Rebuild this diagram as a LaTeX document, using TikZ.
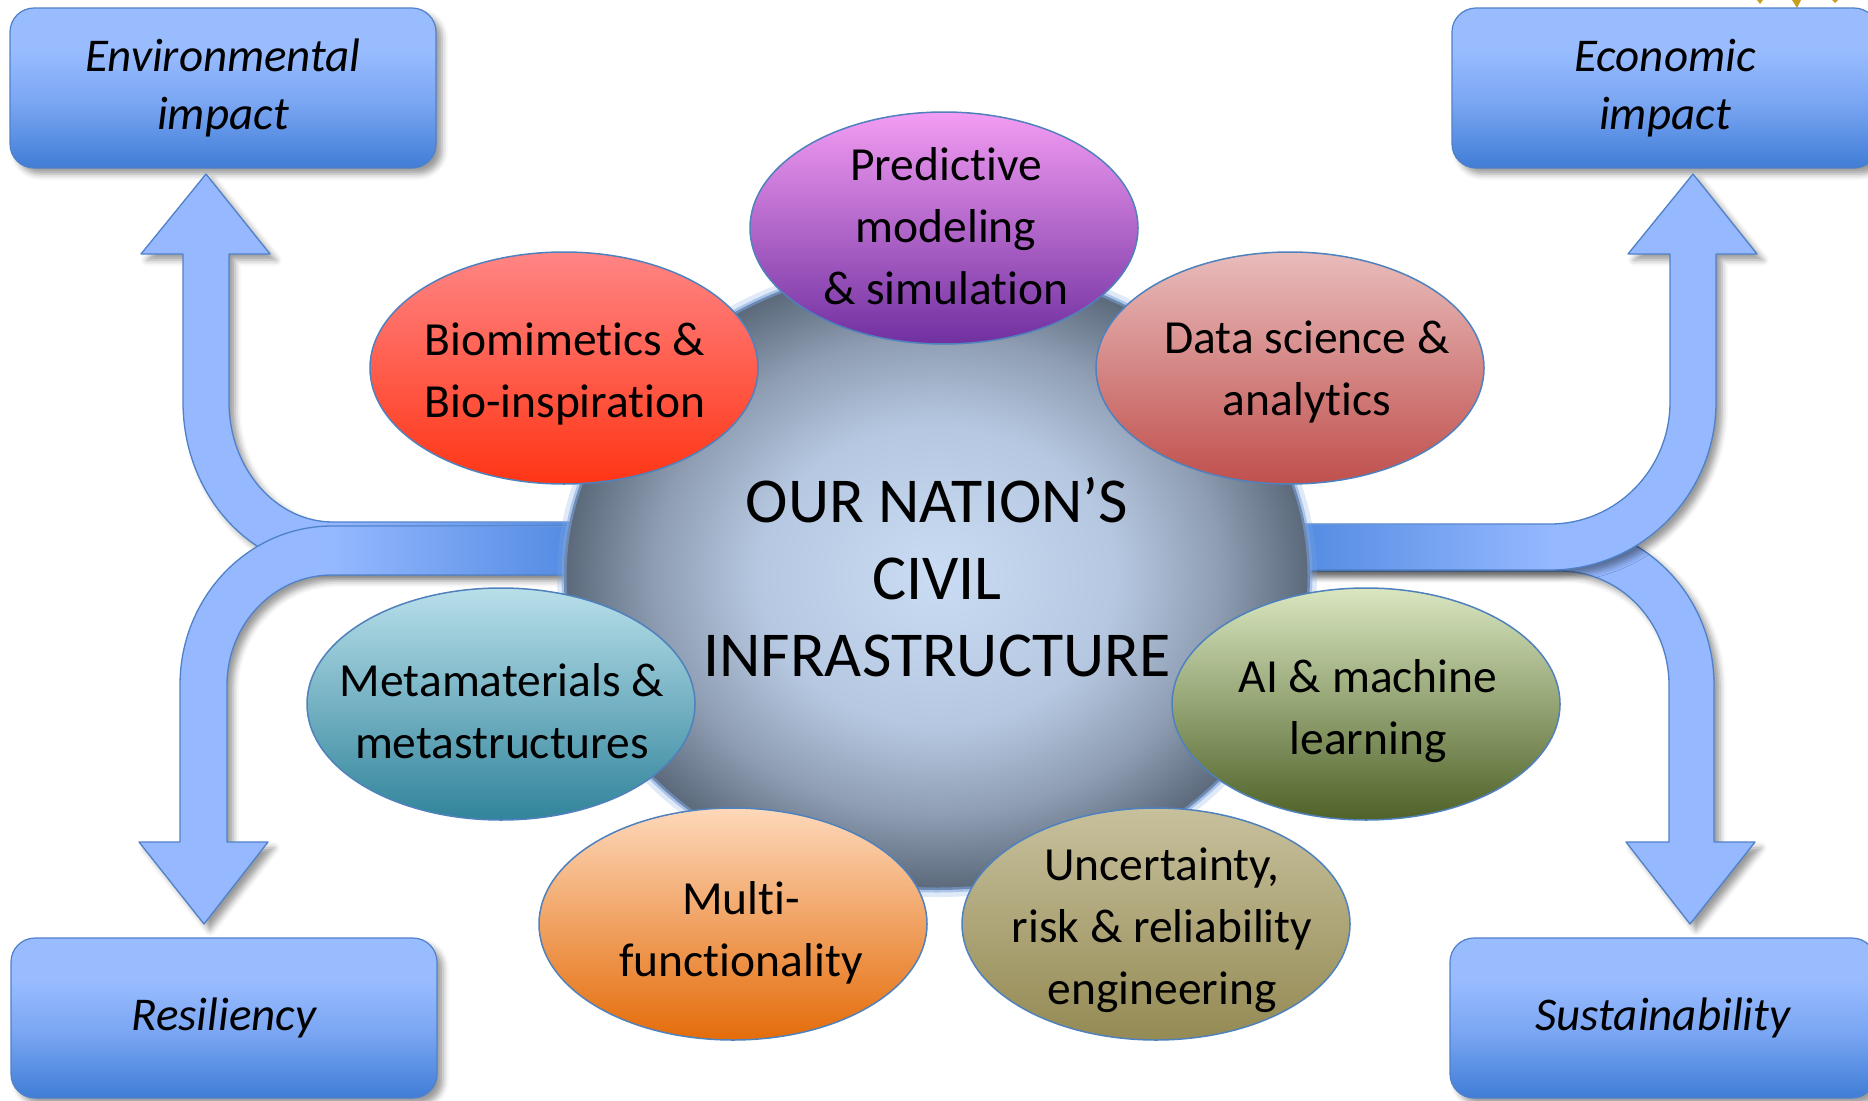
\documentclass[tikz,border=0pt]{standalone}
\usepackage{fontspec}
\setmainfont{Carlito}[Ligatures={NoCommon}]
\usetikzlibrary{shapes.geometric,shadows.blur}

\definecolor{arrfill}{HTML}{95B8FF}
\definecolor{arrline}{HTML}{4F81C8}
\definecolor{arrdark}{HTML}{4682DC}
\definecolor{boxtop}{HTML}{99BCFF}
\definecolor{boxmid}{HTML}{79A5F2}
\definecolor{boxbot}{HTML}{407DD6}
\definecolor{cinner}{HTML}{CADCF3}
\definecolor{cmidA}{HTML}{B6C8E1}
\definecolor{cmidB}{HTML}{8E9DB2}
\definecolor{couter}{HTML}{5A687A}
\definecolor{ringblue}{HTML}{7EA6E0}
\definecolor{ellline}{HTML}{4F81BD}
\definecolor{purT}{HTML}{F39CF3}
\definecolor{purB}{HTML}{7030A0}
\definecolor{redT}{HTML}{FF8585}
\definecolor{redB}{HTML}{FF3515}
\definecolor{datT}{HTML}{E8BCBB}
\definecolor{datB}{HTML}{C0504D}
\definecolor{teaT}{HTML}{B8DFEA}
\definecolor{teaB}{HTML}{31849B}
\definecolor{grnT}{HTML}{D9E6C0}
\definecolor{grnB}{HTML}{4F6228}
\definecolor{oraT}{HTML}{FDD8BA}
\definecolor{oraB}{HTML}{E46C0A}
\definecolor{khaT}{HTML}{C7C09C}
\definecolor{khaB}{HTML}{948A54}
\definecolor{goldbit}{HTML}{C8A020}

\pgfdeclareverticalshading{boxshade}{100bp}{color(0bp)=(boxbot); color(25bp)=(boxbot); color(45bp)=(boxmid); color(62bp)=(boxtop); color(100bp)=(boxtop)}
\pgfdeclareradialshading{civshade}{\pgfpointorigin}{color(0bp)=(cinner); color(12bp)=(cmidA); color(19bp)=(cmidB); color(25bp)=(couter); color(50bp)=(couter)}

\newcommand\bxfont{\fontsize{47}{58}\selectfont\itshape}
\newcommand\tpfont{\fontsize{47.5}{62}\selectfont}
\newcommand\ctfont{\fontsize{64}{77}\selectfont}

\newcommand\envarrowpath{(620,522) -- (333,522) .. controls (275.6,522) and (229,468.3) .. (229,402) -- (229,254) -- (270,254) -- (206,174) -- (141,254) -- (183,254) -- (183,402) .. controls (183,494.2) and (250.2,569) .. (333,569) -- (620,569) -- cycle}
\newcommand\resarrowpath{(620,526) -- (332,526) .. controls (248.0,526) and (180,597.2) .. (180,685) -- (180,842) -- (139,842) -- (204,924) -- (268,842) -- (227,842) -- (227,685) .. controls (227,624.2) and (274.0,575) .. (332,575) -- (620,575) -- cycle}
\newcommand\ecoarrowpath{(1250,524) -- (1550,524) .. controls (1616.3,524) and (1670,469.4) .. (1670,402) -- (1670,254) -- (1628,254) -- (1693,174) -- (1757,254) -- (1716,254) -- (1716,402) .. controls (1716,494.8) and (1641.7,570) .. (1550,570) -- (1250,570) -- cycle}
\newcommand\susarrowpath{(1250,525) -- (1560,525) .. controls (1645.1,525) and (1714,596.6) .. (1714,685) -- (1714,842) -- (1755,842) -- (1690,924) -- (1626,842) -- (1669,842) -- (1669,685) .. controls (1669,622.0) and (1620.2,571) .. (1560,571) -- (1250,571) -- cycle}

\tikzset{
  shadowst/.style={blur shadow={shadow xshift=6pt, shadow yshift=-6pt, shadow blur radius=6pt, shadow opacity=40}},
  arrowfillst/.style={fill=arrfill, shadowst},
  arrowlinest/.style={draw=arrline, line width=1.3pt, line join=round},
  boxst/.style={rounded corners=24pt, minimum width=426pt, minimum height=160pt, draw=arrline, line width=1.2pt, shade, shading=boxshade, shadowst, font=\bxfont, align=center, inner sep=0pt},
  topic/.style={ellipse, minimum width=388pt, minimum height=232pt, draw=ellline, line width=1.5pt, inner sep=0pt},
  ttext/.style={font=\tpfont, align=center, inner sep=0pt},
}

\begin{document}
\begin{tikzpicture}[x=1pt, y=-1pt]
\useasboundingbox (0,0) rectangle (1868,1100);

% tiny cut-off fragment at the top right
\fill[goldbit] (1757,0) -- (1763,0) -- (1760,4) -- cycle;
\fill[goldbit] (1792,0) -- (1801,0) -- (1797,8) -- cycle;
\fill[goldbit] (1832,0) -- (1838,0) -- (1835,3) -- cycle;

% outcome boxes
\node[boxst] (env) at (223,88) {Environmental\\impact};
\node[boxst] (eco) at (1665,88) {Economic\\impact};
\node[boxst] (res) at (224,1018) {Resiliency};
\node[boxst] (sus) at (1663,1018) {Sustainability};

% left arrows
\fill[arrowfillst] \envarrowpath;
\shade[left color=arrfill, right color=arrdark] (333,523) rectangle (620,568);
\draw[arrowlinest] \envarrowpath;

\fill[arrowfillst] \resarrowpath;
\shade[left color=arrfill, right color=arrdark] (332,527) rectangle (620,574);
\draw[arrowlinest] \resarrowpath;

% right arrows
\fill[arrowfillst] \susarrowpath;
\shade[left color=arrdark, right color=arrfill] (1250,526) rectangle (1560,570);
\draw[arrowlinest] \susarrowpath;

\fill[arrowfillst] \ecoarrowpath;
\shade[left color=arrdark, right color=arrfill] (1250,525) rectangle (1550,569);
\draw[arrowlinest] \ecoarrowpath;

% central disc
\draw[ringblue, line width=14pt, opacity=.25] (937,576) ellipse [x radius=373pt, y radius=314pt];
\node[ellipse, minimum width=746pt, minimum height=628pt, inner sep=0pt, shade, shading=civshade] (civ) at (937,576) {};
\draw[ringblue, line width=5pt, opacity=.55] (937,576) ellipse [x radius=373pt, y radius=314pt];
\node[font=\ctfont, align=center, inner sep=0pt] (civT) at (937,577) {OUR NATION’S\\CIVIL\\INFRASTRUCTURE};

% topic ellipses
\node[topic, top color=purT, bottom color=purB] (pred) at (944,228) {};
\node[topic, top color=redT, bottom color=redB] (bio) at (564,368) {};
\node[topic, top color=datT, bottom color=datB] (data) at (1290,368) {};
\node[topic, top color=teaT, bottom color=teaB] (meta) at (501,704) {};
\node[topic, top color=grnT, bottom color=grnB] (ai) at (1366,704) {};
\node[topic, top color=oraT, bottom color=oraB] (multi) at (733,924) {};
\node[topic, top color=khaT, bottom color=khaB] (unc) at (1156,924) {};

\node[ttext] (predT) at (946,226) {Predictive\\modeling\\\& simulation};
\node[ttext] (bioT) at (565,374) {Biomimetics \&\\Bio-inspiration};
\node[ttext] (dataT) at (1307,372) {Data science \&\\analytics};
\node[ttext] (metaT) at (502,711) {Metamaterials \&\\metastructures};
\node[ttext] (aiT) at (1368,711) {AI \& machine\\learning};
\node[ttext] (multiT) at (741,933) {Multi-\\functionality};
\node[ttext] (uncT) at (1162,930) {Uncertainty,\\risk \& reliability\\engineering};
\end{tikzpicture}
\end{document}
